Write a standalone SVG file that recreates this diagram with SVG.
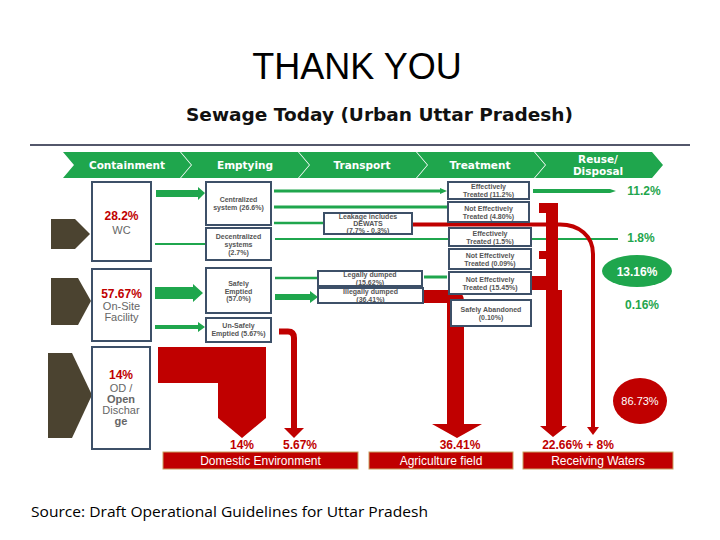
<svg xmlns="http://www.w3.org/2000/svg" width="720" height="540" viewBox="0 0 720 540">
<style>
.chev{fill:#1fa64d}
.hd{font-family:"DejaVu Sans",sans-serif;font-weight:bold;font-size:10.5px;fill:#fff;text-anchor:middle}
.box{fill:#fff;stroke:#3d5068;stroke-width:2}
.sm{font-family:"Liberation Sans",Arial,sans-serif;font-weight:bold;font-size:7px;fill:#555;text-anchor:middle}
.lb{font-family:"Liberation Sans",Arial,sans-serif;font-size:11px;fill:#666;text-anchor:middle}
.pr{font-family:"Liberation Sans",Arial,sans-serif;font-weight:bold;font-size:12px;fill:#c00000;text-anchor:middle}
.pg{font-family:"Liberation Sans",Arial,sans-serif;font-weight:bold;font-size:12px;fill:#1fa64d;text-anchor:middle}
.gl{stroke:#1fa64d;fill:none}
.ga{fill:#1fa64d}
.rd{fill:#c00000}
.dest{fill:#c00000;stroke:#c8a060;stroke-width:1}
.dt{font-family:"Liberation Sans",Arial,sans-serif;font-size:12px;fill:#fff;text-anchor:middle}
.ol{fill:#4b4330}
</style>
<rect width="720" height="540" fill="#fff"/>
<text x="357" y="79" font-family="Liberation Sans, Arial, sans-serif" font-size="36" text-anchor="middle" fill="#000">THANK YOU</text>
<text x="379.5" y="121" font-family="DejaVu Sans, sans-serif" font-weight="bold" font-size="17" text-anchor="middle" textLength="387" lengthAdjust="spacingAndGlyphs" fill="#111">Sewage Today (Urban Uttar Pradesh)</text>
<line x1="30" y1="145" x2="690" y2="145" stroke="#1a1f3a" stroke-width="1.5"/>

<g id="header">
<polygon class="chev" points="63,152 180,152 191,165 180,178 63,178 74,165"/>
<polygon class="chev" points="181,152 298,152 309,165 298,178 181,178 192,165"/>
<polygon class="chev" points="299,152 416,152 427,165 416,178 299,178 310,165"/>
<polygon class="chev" points="417,152 534,152 545,165 534,178 417,178 428,165"/>
<polygon class="chev" points="535,152 652,152 663,165 652,178 535,178 546,165"/>
<text class="hd" x="127" y="169">Containment</text>
<text class="hd" x="245" y="169">Emptying</text>
<text class="hd" x="362" y="169">Transport</text>
<text class="hd" x="480" y="169">Treatment</text>
<text class="hd" x="598" y="163">Reuse/</text>
<text class="hd" x="598" y="175">Disposal</text>
</g>

<g id="sources">
<polygon class="ol" points="51,219 75,219 90,234 75,249 51,249"/>
<polygon class="ol" points="51,278 78,278 91,301 78,325 51,325"/>
<polygon class="ol" points="48,353 72,353 92,395 72,438 48,438"/>
</g>

<g id="connectors">
<polygon class="ga" points="156,190 198,190 198,187 205,193 198,200 198,197 156,197"/>
<line class="gl" x1="155" y1="244" x2="206" y2="244" stroke-width="2"/>
<polygon class="ga" points="155,287 193,287 193,284 203,293 193,302 193,299 155,299"/>
<polygon class="ga" points="155,325 198,325 198,322 205,327 198,332 198,329 155,329"/>
<line class="gl" x1="274" y1="191" x2="442" y2="191" stroke-width="3"/>
<polygon class="ga" points="440,188 447,191 440,194"/>
<line class="gl" x1="274" y1="207" x2="447" y2="207" stroke-width="3"/>
<line class="gl" x1="274" y1="223" x2="324" y2="223" stroke-width="2.5"/>
<line class="gl" x1="275" y1="239" x2="618" y2="239" stroke-width="2"/>
<line class="gl" x1="275" y1="278" x2="318" y2="278" stroke-width="2.5"/>
<polygon class="ga" points="275,294 310,294 310,291 318,297 310,303 310,300 275,300"/>
<line class="gl" x1="424" y1="277" x2="447" y2="277" stroke-width="3"/>
<polygon class="ga" points="533,189 610,189 616,191 610,193 533,193"/>
<path d="M412,224.5 H560 C579,224.5 593,236 593,254 V428" fill="none" stroke="#c00000" stroke-width="4"/>
<polygon class="rd" points="587,427 599,427 593,435"/>
<polygon class="rd" points="539,203 558,203 558,290 562,290 562,426 567,426 553,437 540,426 546,426 546,290 532,290 532,276 546,276 546,259 539,259 539,251 546,251 546,213 539,213"/>
<path class="rd" d="M424,290 H452 Q464,290 464,302 V424 H482 L457,438 L432,424 H447 V303 H424 Z"/>
<path d="M279,331.5 H288 Q294,331.5 294,338 V430" fill="none" stroke="#c00000" stroke-width="6"/>
<polygon class="rd" points="284,428 304,428 294,438"/>
<polygon class="rd" points="158,347 266,347 266,418 242,438 218,418 218,383 158,383"/>
</g>

<g id="wc">
<rect class="box" x="92" y="182" width="59" height="79"/>
<text class="pr" x="121.5" y="220">28.2%</text>
<text class="lb" x="121.5" y="234">WC</text>
</g>
<g id="onsite">
<rect class="box" x="92" y="269" width="59" height="72"/>
<text class="pr" x="121.5" y="298">57.67%</text>
<text class="lb" x="121.5" y="310">On-Site</text>
<text class="lb" x="121.5" y="321">Facility</text>
</g>
<g id="od">
<rect class="box" x="92" y="347" width="58" height="102"/>
<text class="pr" x="121" y="378.5">14%</text>
<text class="lb" x="121" y="392">OD /</text>
<text class="lb" x="121" y="403" font-weight="bold">Open</text>
<text class="lb" x="121" y="414" font-size="9">Dischar</text>
<text class="lb" x="121" y="425" font-weight="bold" font-size="10">ge</text>
</g>

<g id="centralized">
<rect class="box" x="206" y="182" width="65" height="43"/>
<text class="sm" x="238.5" y="202">Centralized</text>
<text class="sm" x="238.5" y="210">system  (26.6%)</text>
</g>
<g id="decentralized">
<rect class="box" x="206" y="228" width="65" height="32"/>
<text class="sm" x="238.5" y="239">Decentralized</text>
<text class="sm" x="238.5" y="247">systems</text>
<text class="sm" x="238.5" y="255">(2.7%)</text>
</g>
<g id="safely">
<rect class="box" x="206" y="268" width="65" height="45"/>
<text class="sm" x="238.5" y="286">Safely</text>
<text class="sm" x="238.5" y="293.5">Emptied</text>
<text class="sm" x="238.5" y="301">(57.0%)</text>
</g>
<g id="unsafely">
<rect class="box" x="206" y="318" width="65" height="24"/>
<text class="sm" x="238.5" y="328">Un-Safely</text>
<text class="sm" x="238.5" y="336">Emptied (5.67%)</text>
</g>

<g id="leakage">
<rect class="box" x="324" y="213" width="88" height="21"/>
<text class="sm" x="368" y="219">Leakage includes</text>
<text class="sm" x="368" y="226">DEWATS</text>
<text class="sm" x="368" y="233">(7.7% - 0.3%)</text>
</g>
<g id="legally">
<rect class="box" x="318" y="271" width="104" height="15"/>
<text class="sm" x="370" y="277">Legally dumped</text>
<text class="sm" x="370" y="284.5">(15.62%)</text>
</g>
<g id="illegally">
<rect class="box" x="318" y="288" width="105" height="15"/>
<text class="sm" x="370.5" y="294">Illegally dumped</text>
<text class="sm" x="370.5" y="301.5">(36.41%)</text>
</g>

<g id="et1">
<rect class="box" x="448" y="182" width="81" height="17"/>
<text class="sm" x="488.5" y="189">Effectively</text>
<text class="sm" x="488.5" y="197">Treated  (11.2%)</text>
</g>
<g id="net1">
<rect class="box" x="448" y="202" width="81" height="20"/>
<text class="sm" x="488.5" y="210.5">Not Effectively</text>
<text class="sm" x="488.5" y="218.5">Treated (4.80%)</text>
</g>
<g id="et2">
<rect class="box" x="449" y="228" width="82" height="18"/>
<text class="sm" x="490" y="235.5">Effectively</text>
<text class="sm" x="490" y="243.5">Treated  (1.5%)</text>
</g>
<g id="net2">
<rect class="box" x="449" y="249" width="82" height="20"/>
<text class="sm" x="490" y="257.5">Not Effectively</text>
<text class="sm" x="490" y="265.5">Treated (0.09%)</text>
</g>
<g id="net3">
<rect class="box" x="449" y="272" width="82" height="22"/>
<text class="sm" x="490" y="281.5">Not Effectively</text>
<text class="sm" x="490" y="289.5">Treated (15.45%)</text>
</g>
<g id="abandoned">
<rect class="box" x="451" y="300" width="80" height="26"/>
<text class="sm" x="491" y="311.5">Safely Abandoned</text>
<text class="sm" x="491" y="319.5">(0.10%)</text>
</g>

<g id="reuse">
<text class="pg" x="644" y="195">11.2%</text>
<text class="pg" x="641" y="242">1.8%</text>
<ellipse cx="637" cy="271" rx="35" ry="16" fill="#1fa64d"/>
<text x="637" y="275.5" font-family="Liberation Sans, Arial, sans-serif" font-weight="bold" font-size="12" fill="#fff" text-anchor="middle">13.16%</text>
<text class="pg" x="642" y="309">0.16%</text>
<ellipse cx="640" cy="401" rx="27" ry="23" fill="#c00000"/>
<text x="640" y="405" font-family="Liberation Sans, Arial, sans-serif" font-size="11" fill="#fff" text-anchor="middle">86.73%</text>
</g>

<g id="destinations">
<text class="pr" x="242" y="449">14%</text>
<text class="pr" x="300" y="449">5.67%</text>
<text class="pr" x="460" y="449">36.41%</text>
<text class="pr" x="578" y="449">22.66% + 8%</text>
<rect class="dest" x="163" y="452" width="195" height="17"/>
<text class="dt" x="260.5" y="465">Domestic Environment</text>
<rect class="dest" x="369" y="452" width="144" height="17"/>
<text class="dt" x="441" y="465">Agriculture field</text>
<rect class="dest" x="523" y="452" width="150" height="17"/>
<text class="dt" x="598" y="465">Receiving Waters</text>
</g>

<text x="31" y="517" font-family="Open Sans, Liberation Sans, sans-serif" font-size="15" textLength="397" lengthAdjust="spacingAndGlyphs" fill="#000">Source: Draft Operational Guidelines for Uttar Pradesh</text>
</svg>
